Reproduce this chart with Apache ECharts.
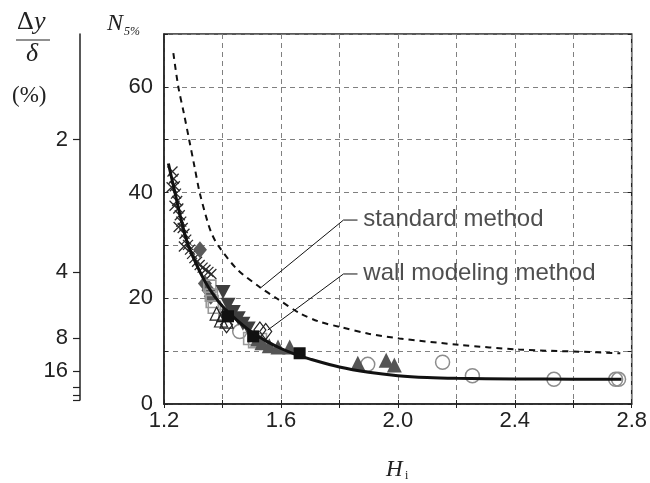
<!DOCTYPE html>
<html>
<head>
<meta charset="utf-8">
<script src="https://cdn.jsdelivr.net/npm/echarts@6/dist/echarts.min.js"></script>
<style>
  html, body { margin: 0; padding: 0; background: #fff; }
  #chart { width: 650px; height: 483px; }
</style>
</head>
<body>
<div id="chart"></div>
<script>
// Axis tick labels
const xTickLabels = [1.2, 1.6, 2.0, 2.4, 2.8];
const yTickLabels = [0, 20, 40, 60];
const pctTickLabels = [2, 4, 8, 16];     // Δy/δ (%) labelled ticks
const pctMinorTicks = [32, 64, 128];      // unlabelled ticks below 16 %

// Fitted curves: [H_i, N_5%]
const wallModelCurve = [
  [1.215, 45.5], [1.2375, 40.0], [1.258, 35.0], [1.28, 30.5], [1.31, 26.5],
  [1.34, 23.2], [1.37, 20.6], [1.40, 18.5], [1.45, 15.8], [1.50, 13.6],
  [1.55, 11.9], [1.60, 10.5], [1.65, 9.4], [1.70, 8.5], [1.80, 7.0],
  [1.90, 6.0], [2.00, 5.35], [2.10, 5.0], [2.20, 4.85], [2.40, 4.74],
  [2.60, 4.69], [2.765, 4.67]
];
const standardCurve = [
  [1.232, 66.4], [1.249, 60.0], [1.268, 55.0], [1.286, 50.0], [1.304, 45.0],
  [1.322, 40.0], [1.35, 34.3], [1.365, 32.0], [1.385, 30.0], [1.45, 25.5],
  [1.528, 22.1], [1.585, 20.0], [1.664, 17.2], [1.73, 15.6], [1.80, 14.6],
  [1.90, 13.3], [2.005, 12.4], [2.21, 11.2], [2.415, 10.3], [2.619, 9.9],
  [2.761, 9.6]
];

// Measured points by marker group: [H_i, N_5%]
const crossPts = [
  [1.229, 44.0], [1.233, 42.6], [1.237, 41.2], [1.241, 39.8], [1.245, 38.4],
  [1.249, 37.0], [1.254, 35.7], [1.259, 34.5], [1.264, 33.3], [1.270, 32.2],
  [1.276, 31.1], [1.282, 30.1], [1.289, 29.2], [1.296, 28.4], [1.304, 27.6],
  [1.313, 26.9], [1.322, 26.3], [1.332, 25.8], [1.342, 25.4], [1.352, 25.0],
  [1.362, 24.6], [1.226, 41.0], [1.236, 37.5], [1.250, 33.5], [1.268, 29.8]
];
const grayDiamondPts = [[1.323, 29.2], [1.340, 22.8], [1.352, 21.5], [1.36, 20.4]];
const openSquarePts = [[1.357, 22.3], [1.362, 20.6], [1.365, 19.4], [1.372, 18.3],
  [1.408, 16.8], [1.493, 12.4], [1.51, 11.8], [1.53, 12.2]];
const downTrianglePts = [[1.402, 21.2], [1.419, 18.8], [1.437, 17.4], [1.454, 16.2],
  [1.47, 15.2], [1.488, 14.3]];
const openTrianglePts = [[1.38, 17.1], [1.395, 15.8], [1.403, 16.8], [1.414, 15.6]];
const blackSquarePts = [[1.419, 16.6], [1.505, 12.8], [1.664, 9.6]];
const openDiamondPts = [[1.414, 15.0], [1.528, 14.0], [1.548, 13.7]];
const openCirclePts = [[1.459, 13.7], [1.897, 7.5], [2.153, 7.9], [2.255, 5.35],
  [2.534, 4.67], [2.745, 4.67], [2.755, 4.67]];
const upTrianglePts = [[1.52, 12.3], [1.535, 11.6], [1.56, 11.0], [1.59, 10.8], [1.63, 10.8],
  [1.863, 7.7], [1.96, 8.3], [1.988, 7.4]];

// Callout leader lines and their texts: [H_i, N_5%]
const standardLeader = [[1.531, 22.0], [1.814, 34.8], [1.862, 34.8]];
const wallLeader = [[1.555, 14.0], [1.814, 24.6], [1.862, 24.6]];
const calloutTexts = [
  { name: 'standard method', value: [1.882, 35.0] },
  { name: 'wall modeling method', value: [1.882, 24.7] }
];

const TICK_FONT = 'Liberation Sans, Arial, sans-serif';
const SERIF = 'Liberation Serif, Times New Roman, serif';

const near = (v, list) => list.some(t => Math.abs(t - v) < 1e-6);

const chart = echarts.init(document.getElementById('chart'), null, { renderer: 'canvas' });

function scatter(data, symbol, size, fill, stroke, bw, z) {
  return {
    type: 'scatter', xAxisIndex: 0, yAxisIndex: 0, data: data,
    symbol: symbol, symbolSize: size, z: z || 3, silent: true,
    itemStyle: { color: fill, borderColor: stroke, borderWidth: bw, opacity: 1 }
  };
}

const gridLineStyle = { color: '#808080', width: 1, type: [5, 4] };

chart.setOption({
  animation: false,
  backgroundColor: '#fff',
  grid: [
    { left: 164, right: 17, top: 34, bottom: 79, show: true, borderColor: '#222', borderWidth: 1.5, backgroundColor: 'transparent' },
    { left: 80, width: 1, top: 34, bottom: 83, show: false }
  ],
  xAxis: [
    {
      type: 'value', gridIndex: 0, min: 1.2, max: 2.8, interval: 0.2,
      axisLine: { show: true, lineStyle: { color: '#222', width: 1.5 } },
      axisTick: { show: true, inside: true, length: 4, lineStyle: { color: '#222' } },
      splitLine: { show: true, lineStyle: gridLineStyle },
      axisLabel: {
        show: true, margin: 6, fontFamily: TICK_FONT, fontSize: 22, color: '#222',
        formatter: v => near(v, xTickLabels) ? v.toFixed(1) : ''
      }
    },
    {
      type: 'value', gridIndex: 0, position: 'top', min: 1.2, max: 2.8, interval: 0.2,
      axisLine: { show: false }, axisLabel: { show: false }, splitLine: { show: false },
      axisTick: { show: true, inside: true, length: 4, lineStyle: { color: '#222' } }
    },
    { type: 'value', gridIndex: 1, min: 0, max: 1, show: false }
  ],
  yAxis: [
    {
      type: 'value', gridIndex: 0, min: 0, max: 70, interval: 10,
      axisLine: { show: true, lineStyle: { color: '#222', width: 1.5 } },
      axisTick: { show: true, inside: true, length: 4, lineStyle: { color: '#222' } },
      splitLine: { show: true, lineStyle: gridLineStyle },
      axisLabel: {
        show: true, margin: 11, fontFamily: TICK_FONT, fontSize: 22, color: '#222',
        formatter: v => near(v, yTickLabels) ? String(v) : ''
      }
    },
    {
      type: 'value', gridIndex: 0, position: 'right', min: 0, max: 70, interval: 10,
      axisLine: { show: false }, axisLabel: { show: false }, splitLine: { show: false },
      axisTick: { show: true, inside: true, length: 4, lineStyle: { color: '#222' } }
    },
    {
      // Δy/δ (%) scale: a drift of p % corresponds to N = 100 / p
      type: 'value', gridIndex: 1, position: 'left', min: 0.757, max: 70,
      axisLine: { show: true, onZero: false, lineStyle: { color: '#222', width: 1.5 } },
      axisTick: {
        show: true, inside: false, length: 7, lineStyle: { color: '#222', width: 1.2 },
        customValues: pctTickLabels.concat(pctMinorTicks).map(p => 100 / p)
      },
      axisLabel: {
        show: true, margin: 12, fontFamily: TICK_FONT, fontSize: 22, color: '#222',
        customValues: pctTickLabels.map(p => 100 / p),
        formatter: v => String(Math.round(100 / v))
      },
      splitLine: { show: false }
    }
  ],
  series: [
    scatter(openCirclePts, 'circle', 14, 'rgba(0,0,0,0)', '#8c8c8c', 1.5),
    scatter(crossPts, 'path://M0,0L10,10M10,0L0,10', 10, 'rgba(0,0,0,0)', '#2a2a2a', 1.3),
    scatter(grayDiamondPts, 'diamond', [14, 17], '#5a5a5a', '#5a5a5a', 0),
    scatter(openSquarePts, 'rect', 12, 'rgba(0,0,0,0)', '#9a9a9a', 1.6),
    scatter(upTrianglePts, 'triangle', 15, '#555', '#555', 0),
    scatter(downTrianglePts, 'path://M0,0L10,0L5,9Z', [15, 14], '#3e3e3e', '#3e3e3e', 0),
    scatter(openTrianglePts, 'triangle', 13, 'rgba(0,0,0,0)', '#222', 1.2),
    scatter(openDiamondPts, 'diamond', [12, 16], 'rgba(0,0,0,0)', '#222', 1.2),
    scatter(blackSquarePts, 'rect', 12, '#111', '#111', 0),
    {
      type: 'line', data: standardCurve, smooth: 0.3, symbol: 'none', z: 5, silent: true,
      lineStyle: { color: '#111', width: 2, type: [6, 5] }
    },
    {
      type: 'line', data: wallModelCurve, smooth: 0.3, symbol: 'none', z: 5, silent: true,
      lineStyle: { color: '#111', width: 3 }
    },
    {
      type: 'line', data: standardLeader, symbol: 'none', z: 6, silent: true,
      lineStyle: { color: '#111', width: 1 }
    },
    {
      type: 'line', data: wallLeader, symbol: 'none', z: 6, silent: true,
      lineStyle: { color: '#111', width: 1 }
    },
    {
      type: 'scatter', data: calloutTexts, symbolSize: 0, z: 7, silent: true,
      label: {
        show: true, position: 'right', distance: 0, formatter: p => p.name,
        fontFamily: TICK_FONT, fontSize: 24, color: '#222'
      }
    }
  ],
  graphic: [
    // Δy / δ (%) header of the left scale
    { type: 'text', left: 17, top: 9, style: { text: 'Δ', font: '26px ' + SERIF, fill: '#222' } },
    { type: 'text', left: 34, top: 9, style: { text: 'y', font: 'italic 26px ' + SERIF, fill: '#222' } },
    { type: 'line', shape: { x1: 16, y1: 40, x2: 50, y2: 40 }, style: { stroke: '#222', lineWidth: 1.2 } },
    { type: 'text', left: 26, top: 41, style: { text: 'δ', font: 'italic 26px ' + SERIF, fill: '#222' } },
    { type: 'text', left: 12, top: 84, style: { text: '(%)', font: '23px ' + SERIF, fill: '#222' } },
    // N_5% axis title
    { type: 'text', left: 107, top: 12, style: { text: 'N', font: 'italic 24px ' + SERIF, fill: '#222' } },
    { type: 'text', left: 124, top: 26, style: { text: '5%', font: 'italic 12px ' + SERIF, fill: '#222' } },
    // H_i axis title
    { type: 'text', left: 386, top: 458, style: { text: 'H', font: 'italic 23px ' + SERIF, fill: '#222' } },
    { type: 'text', left: 405, top: 470, style: { text: 'i', font: '12px ' + SERIF, fill: '#222' } }
  ]
});
</script>
</body>
</html>
